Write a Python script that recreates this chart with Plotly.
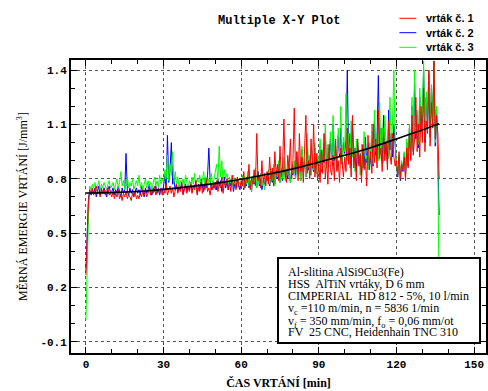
import numpy as np
import plotly.graph_objects as go

# ---- data ----
t = [round(0.5 * i, 1) for i in range(274)]  # 0 .. 136.5 min

red = [
 0.27,0.50,0.68,0.74,0.72,0.75,0.71,0.74,0.76,0.72,0.73,0.70,0.75,0.72,0.74,0.71,0.73,0.75,0.71,0.72,
 0.70,0.73,0.69,0.72,0.70,0.74,0.69,0.71,0.68,0.72,0.70,0.73,0.69,0.71,0.70,0.68,0.72,0.70,0.73,0.69,
 0.71,0.69,0.72,0.70,0.74,0.71,0.73,0.70,0.72,0.75,0.71,0.74,0.72,0.76,0.71,0.73,0.75,0.72,0.74,0.71,
 0.75,0.72,0.77,0.71,0.74,0.76,0.72,0.75,0.70,0.74,0.77,0.72,0.75,0.73,0.78,0.71,0.74,0.76,0.72,0.75,
 0.73,0.77,0.72,0.76,0.74,0.79,0.71,0.75,0.73,0.78,0.72,0.76,0.74,0.80,0.73,0.75,0.71,0.77,0.74,0.78,
 0.74,0.79,0.73,0.77,0.75,0.81,0.72,0.78,0.76,0.80,0.74,0.78,0.73,0.82,0.76,0.79,0.74,0.81,0.77,0.75,
 0.79,0.76,0.84,0.75,0.81,0.78,0.88,0.74,0.80,0.77,0.85,0.76,1.05,0.79,0.82,0.75,0.90,0.78,0.83,0.76,
 0.84,0.77,0.92,0.80,0.86,0.76,0.95,0.82,0.88,0.79,0.98,0.81,0.87,1.13,0.83,0.78,0.93,0.85,1.02,0.80,
 0.90,1.19,0.82,0.95,0.79,1.05,0.84,0.92,0.78,0.98,1.15,0.83,0.90,0.80,1.02,0.86,1.10,0.81,0.94,0.79,
 0.88,0.78,0.96,0.83,1.05,0.80,0.91,0.77,0.99,0.85,0.82,0.93,0.79,1.02,0.84,0.90,0.78,0.97,0.86,0.81,
 0.92,0.84,1.08,0.88,0.97,0.81,1.15,0.86,0.94,0.79,1.02,0.87,0.93,0.78,0.99,0.85,0.91,0.76,1.04,0.88,
 0.95,0.83,1.10,0.89,1.02,0.86,1.18,0.91,0.97,0.84,1.06,0.90,1.00,0.85,1.12,0.93,0.88,1.05,0.92,0.87,
 0.90,0.82,0.95,0.80,0.88,0.85,0.92,0.79,0.97,0.86,1.05,0.90,1.15,0.93,1.02,1.25,0.95,1.10,0.92,1.20,
 1.00,1.30,0.95,1.12,1.05,1.40,0.98,1.22,1.08,1.45,1.02,1.15,1.05,0.80,
]

blue = [
 0.30,0.52,0.70,0.73,0.71,0.74,0.72,0.75,0.70,0.73,0.76,0.71,0.74,0.72,0.75,0.73,0.70,0.74,0.76,0.72,
 0.73,0.75,0.71,0.74,0.72,0.76,0.73,0.70,0.75,0.72,0.74,0.94,0.73,0.71,0.75,0.72,0.74,0.70,0.73,0.75,
 0.72,0.74,0.71,0.76,0.73,0.70,0.75,0.72,0.74,0.77,0.73,0.71,0.75,0.73,0.76,0.72,0.74,0.71,0.75,0.73,
 0.76,0.82,0.74,1.04,0.78,0.85,1.00,0.77,0.80,0.74,0.77,0.73,0.76,0.74,0.78,0.72,0.75,0.77,0.73,0.76,
 0.74,0.78,0.73,0.76,0.75,0.79,0.72,0.77,0.74,0.80,0.76,0.73,0.78,0.75,0.82,0.97,0.79,0.74,0.77,0.75,
 0.78,0.74,0.80,0.76,0.79,0.73,0.77,0.81,0.75,0.78,0.74,0.79,0.76,0.80,0.73,0.77,0.75,0.79,0.76,0.74,
 0.77,0.80,0.74,0.79,0.76,0.82,0.75,0.78,0.73,0.81,0.77,0.79,0.75,0.84,0.76,0.80,0.74,0.78,0.77,0.81,
 0.79,0.83,0.76,0.81,0.78,0.86,0.77,0.82,0.80,0.88,0.78,0.84,0.79,0.90,0.81,0.85,0.80,0.87,0.78,0.83,
 0.82,0.88,0.80,0.93,0.83,0.87,0.79,0.96,0.84,0.90,0.81,1.00,0.85,0.92,0.82,0.88,0.84,0.97,0.83,0.91,
 0.87,0.98,0.84,0.95,0.89,1.05,0.86,0.97,0.91,1.02,0.88,1.10,0.90,0.96,0.85,1.04,0.92,1.08,0.88,1.00,
 0.94,1.02,1.40,0.92,1.05,0.87,1.10,0.90,0.97,0.84,1.00,0.88,0.94,0.82,0.98,0.86,1.03,0.89,0.92,0.85,
 0.91,1.06,0.87,1.12,0.93,1.02,1.37,0.95,1.08,0.90,1.15,0.94,1.00,0.89,1.18,0.96,1.05,0.92,1.10,0.97,
 0.87,0.81,0.92,0.79,0.89,0.84,0.94,0.82,1.00,0.87,1.08,0.91,1.20,0.95,1.32,1.02,1.15,0.97,1.25,1.06,
 1.12,1.40,1.00,1.25,1.08,1.38,1.03,1.30,1.10,1.45,0.98,1.18,0.90,0.60,
]

green = [
 0.02,0.35,0.60,0.76,0.74,0.77,0.75,0.78,0.73,0.76,0.79,0.74,0.77,0.75,0.78,0.76,0.74,0.77,0.79,0.75,
 0.76,0.78,0.74,0.77,0.80,0.75,0.78,0.84,0.76,0.79,0.74,0.77,0.81,0.75,0.78,0.76,0.80,0.74,0.77,0.79,
 0.76,0.82,0.75,0.78,0.74,0.77,0.80,0.75,0.79,0.76,0.78,0.74,0.77,0.81,0.76,0.79,0.75,0.82,0.77,0.80,
 0.78,0.85,0.80,0.93,0.79,0.88,0.82,0.95,0.78,0.84,0.77,0.81,0.75,0.79,0.77,0.80,0.76,0.82,0.78,0.75,
 0.79,0.76,0.81,0.77,0.83,0.75,0.80,0.78,0.82,0.76,0.79,0.84,0.77,0.81,0.75,0.80,0.78,0.83,0.76,0.80,
 0.82,0.88,0.79,0.98,0.81,0.90,0.78,0.85,0.80,0.83,0.77,0.81,0.79,0.76,0.82,0.78,0.80,0.75,0.79,0.77,
 0.78,0.82,0.75,0.80,0.77,0.84,0.76,0.79,0.73,0.81,0.78,0.86,0.75,0.80,0.77,0.83,0.76,0.79,0.74,0.82,
 0.80,0.85,0.77,0.83,0.79,0.88,0.76,0.84,0.81,0.90,0.78,0.86,0.80,0.92,0.79,0.85,0.82,0.88,0.78,0.84,
 0.83,0.90,0.80,0.95,0.82,0.88,0.79,0.98,0.84,0.91,0.81,1.05,0.86,0.93,0.82,0.89,0.85,1.00,0.83,0.94,
 0.88,1.02,0.85,0.96,0.90,1.10,0.86,0.99,0.92,1.06,0.87,1.15,0.91,0.98,0.85,1.08,0.94,1.20,0.89,1.03,
 0.95,1.27,0.90,1.05,0.86,1.12,0.92,0.98,0.84,1.02,0.88,0.95,0.82,0.99,0.86,1.06,0.89,0.93,0.85,1.00,
 0.92,1.10,0.88,1.18,0.95,1.05,0.90,1.22,0.94,1.08,0.89,1.15,0.97,1.03,0.91,1.25,0.96,1.12,1.40,1.00,
 0.88,0.82,0.93,0.80,0.90,0.85,0.95,0.83,1.02,0.88,1.10,0.92,1.25,0.97,1.40,1.05,1.18,0.99,1.30,1.08,
 1.15,1.45,1.02,1.28,1.10,1.40,1.05,1.32,1.12,1.45,1.00,1.20,0.92,0.05,
]

trend_t = [0, 10, 20, 30, 40, 50, 60, 70, 80, 90, 100, 110, 120, 130, 136.5]
trend_y = [0.722, 0.724, 0.730, 0.742, 0.757, 0.775, 0.798, 0.825, 0.855, 0.892, 0.930, 0.972, 1.020, 1.070, 1.104]

series_names = ["vrták č. 1", "vrták č. 2", "vrták č. 3"]
series_colors = ["#FF0000", "#0000FF", "#00FF00"]

x_tickvals = [0, 30, 60, 90, 120, 150]
x_ticktext = ["0", "30", "60", "90", "120", "150"]
y_tickvals = [-0.1, 0.2, 0.5, 0.8, 1.1, 1.4]
y_ticktext = ["-0.1", "0.2", "0.5", "0.8", "1.1", "1.4"]

info_lines = [
    "Al-slitina AlSi9Cu3(Fe)",
    "HSS  AlTiN vrtáky, D 6 mm",
    "CIMPERIAL  HD 812 - 5%, 10 l/min",
    "v<sub>c</sub> =110 m/min, n = 5836 1/min",
    "v<sub>f</sub> = 350 mm/min, f<sub>o</sub> = 0,06 mm/ot",
    "FV  25 CNC, Heidenhain TNC 310",
]

# ---- layout geometry ----
W, H = 488, 391
ML, MR, MT, MB = 71, 0, 60, 38
PW, PH = W - ML - MR, H - MT - MB

def px(xp):
    return (xp - ML) / PW

def py(yp):
    return (H - MB - yp) / PH

fig = go.Figure()

# draw order: blue, green, red (red on top)
data_map = {0: red, 1: blue, 2: green}
for i in [1, 2, 0]:
    fig.add_trace(go.Scatter(x=t, y=data_map[i], mode="lines",
                             line=dict(color=series_colors[i], width=1),
                             name=series_names[i], showlegend=False, hoverinfo="skip"))

fig.add_trace(go.Scatter(x=trend_t, y=trend_y, mode="lines",
                         line=dict(color="black", width=1.6, shape="spline"),
                         showlegend=False, hoverinfo="skip"))

mono = "Liberation Mono"
serif = "Liberation Serif"

axis_common = dict(
    showline=True, linecolor="black", linewidth=2, mirror="allticks",
    ticks="inside", ticklen=6, tickcolor="black", tickwidth=1,
    showgrid=True, gridcolor="#555555", griddash="dot", gridwidth=1,
    zeroline=False,
    tickfont=dict(family=mono, size=11, color="black", weight="bold"),
)

fig.update_xaxes(range=[-5.77, 154.6], tickvals=x_tickvals, ticktext=x_ticktext,
                 minor=dict(tickvals=list(range(0, 151, 10)), ticklen=4, ticks="inside",
                            tickcolor="black", showgrid=False),
                 title=dict(text="ČAS VRTÁNÍ [min]", font=dict(family=serif, size=12, color="black", weight="bold"),
                            standoff=8),
                 **axis_common)
fig.update_yaxes(range=[-0.161, 1.4556], tickvals=y_tickvals, ticktext=y_ticktext,
                 minor=dict(tickvals=[round(-0.1 + 0.1 * k, 1) for k in range(16)], ticklen=4, ticks="inside",
                            tickcolor="black", showgrid=False),
                 title=dict(text="MĚRNÁ EMERGIE VRTÁNÍ [J/mm<sup>3</sup>]",
                            font=dict(family=serif, size=12, color="black"), standoff=10),
                 **axis_common)

shapes = []
annotations = []

# title
annotations.append(dict(text="Multiple X-Y Plot", xref="paper", yref="paper",
                        x=px(279.5), y=py(21.5), xanchor="center", yanchor="middle", showarrow=False,
                        font=dict(family=mono, size=12, color="black", weight="bold")))

# legend (manual)
leg_y = [18.3, 32.7, 47.3]
for i in range(3):
    shapes.append(dict(type="line", xref="paper", yref="paper",
                       x0=px(401), x1=px(418), y0=py(leg_y[i]), y1=py(leg_y[i]),
                       line=dict(color=series_colors[i], width=1)))
    annotations.append(dict(text=series_names[i], xref="paper", yref="paper",
                            x=px(426), y=py(leg_y[i]), xanchor="left", yanchor="middle", showarrow=False,
                            font=dict(family="Liberation Sans", size=11, color="black", weight="bold")))

# info box
shapes.append(dict(type="rect", xref="paper", yref="paper",
                   x0=px(279), x1=px(482), y0=py(343), y1=py(258),
                   line=dict(color="black", width=2), fillcolor="white", layer="above"))
line_y = [271.5, 283.5, 295.5, 309.0, 321.5, 332.0]
for k, txt in enumerate(info_lines):
    annotations.append(dict(text=txt, xref="paper", yref="paper",
                            x=px(287), y=py(line_y[k]), xanchor="left", yanchor="middle", showarrow=False,
                            font=dict(family=serif, size=12, color="black")))

fig.update_layout(
    width=W, height=H,
    margin=dict(l=ML, r=MR, t=MT, b=MB, pad=0),
    paper_bgcolor="white", plot_bgcolor="white",
    showlegend=False,
    shapes=shapes, annotations=annotations,
)

fig.write_html("out.html")
